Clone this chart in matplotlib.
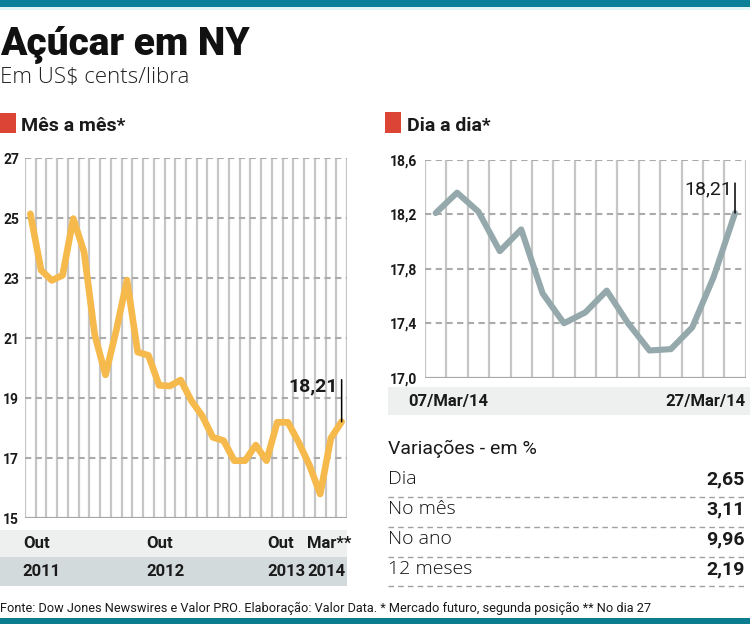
import matplotlib
matplotlib.use("Agg")
import matplotlib.pyplot as plt
from matplotlib.patches import Rectangle
from matplotlib.transforms import blended_transform_factory
import numpy as np

plt.rcParams['font.family'] = ['Roboto', 'DejaVu Sans']
plt.rcParams['lines.scale_dashes'] = False

# ---------------- data ----------------
monthly_values = [25.14, 23.26, 22.92, 23.09, 24.98, 23.87, 21.10, 19.77, 21.25, 22.93,
                  20.53, 20.42, 19.42, 19.40, 19.60, 18.91, 18.41, 17.69, 17.58, 16.91,
                  16.91, 17.43, 16.91, 18.19, 18.19, 17.52, 16.76, 15.80, 17.66, 18.21]
monthly_month_labels = ["Out", "Out", "Out", "Mar**"]
monthly_year_labels = ["2011", "2012", "2013", "2014"]
monthly_label_pos = [-0.7, 10.8, 22.1, 25.8]
monthly_yticks = [15, 17, 19, 21, 23, 25, 27]

daily_values = [18.21, 18.36, 18.22, 17.93, 18.09, 17.62, 17.40, 17.48, 17.64, 17.40,
                17.20, 17.21, 17.37, 17.74, 18.21]
daily_first_label = "07/Mar/14"
daily_last_label = "27/Mar/14"
daily_yticks = [17.0, 17.4, 17.8, 18.2, 18.6]

var_labels = ["Dia", "No mês", "No ano", "12 meses"]
var_values = ["2,65", "3,11", "9,96", "2,19"]

# ---------------- styling ----------------
W, H = 750, 624
TEAL = "#0c7f99"
RED = "#dc4536"
ORANGE = "#f6b94c"
SLATE = "#95a9ad"
VGRID = "#c6c6c6"
HGRID = "#ababab"
BAND_LIGHT = "#eef0f0"
BAND_DARK = "#d2dadc"
TXT = "#1a1a1a"
LIGHT_FAMILY = ["Open Sans", "DejaVu Sans"]

fig = plt.figure(figsize=(W / 100, H / 100), dpi=100)
fig.patch.set_facecolor("white")

def fx(px):
    return px / W

def fy(py):
    return 1 - py / H

def rect(x0, y0, x1, y1, color):
    fig.patches.append(Rectangle((fx(x0), fy(y1)), fx(x1) - fx(x0), fy(y0) - fy(y1),
                                 transform=fig.transFigure, color=color, zorder=0, lw=0))

# top / bottom bars
rect(0, 0, W, 7, TEAL)
rect(0, 7, W, 10, "#e2f5f7")
rect(0, 618, W, H, "#0b7d8e")

# titles
fig.text(fx(0), fy(55), "Açúcar em NY", fontsize=28, fontweight="black", color="#111111",
         ha="left", va="baseline")
fig.text(fx(0), fy(83), "Em US$ cents/libra", fontsize=16, fontweight="light", color="#222222",
         ha="left", va="baseline", family=LIGHT_FAMILY)

# section headers
rect(0, 113, 16, 133, RED)
fig.text(fx(21), fy(131), "Mês a mês*", fontsize=14, fontweight="bold", color=TXT,
         ha="left", va="baseline")
rect(385, 112, 401, 133, RED)
fig.text(fx(407), fy(131), "Dia a dia*", fontsize=14, fontweight="bold", color=TXT,
         ha="left", va="baseline")


def style_axes(ax, n, yticks, pad_px):
    ax.set_zorder(2)
    ax.set_xlim(-0.5, n - 0.5)
    ax.set_ylim(yticks[0], yticks[-1])
    ax.set_xticks([])
    ax.set_xticks(np.arange(-0.5, n, 1), minor=True)
    ax.tick_params(axis="x", which="both", length=0, labelbottom=False)
    ax.set_yticks(yticks)
    ax.tick_params(axis="y", length=0, pad=pad_px * 0.72, labelsize=10, labelcolor=TXT)
    for s in ax.spines.values():
        s.set_visible(False)
    ax.grid(True, which="minor", axis="x", color=VGRID, lw=1.6)
    ax.set_axisbelow(True)
    for v in yticks[1:]:
        ax.axhline(v, color=HGRID, lw=1.5, ls=(0, (4.5, 3.2)), zorder=1)
    ax.axhline(yticks[0], color="#a8a8a8", lw=1.6, zorder=1)
    ax.patch.set_alpha(0)


def bold_left_labels(ax):
    for lbl in ax.get_yticklabels():
        lbl.set_horizontalalignment("left")
        lbl.set_fontweight("bold")


# ---------------- left chart ----------------
axL = fig.add_axes([fx(25), fy(518), fx(347) - fx(25), fy(158) - fy(518)])
nL = len(monthly_values)
xL = np.arange(nL)
style_axes(axL, nL, monthly_yticks, 22)
axL.set_yticklabels([str(v) for v in monthly_yticks])
bold_left_labels(axL)
axL.plot(xL, monthly_values, color=ORANGE, lw=4.8, solid_joinstyle="round",
         solid_capstyle="round", zorder=3)
lastL = monthly_values[-1]
axL.annotate("", xy=(xL[-1], lastL), xycoords="data",
             xytext=(0, 42), textcoords="offset pixels",
             arrowprops=dict(arrowstyle="-", color="black", lw=1.1, shrinkA=0, shrinkB=0))
axL.annotate(f"{lastL:.2f}".replace(".", ","), xy=(xL[-1], lastL), xytext=(-4, 26),
             textcoords="offset pixels", ha="right", va="bottom", fontsize=14,
             fontweight="bold", color=TXT)

# bands under left chart
rect(0, 530, 347, 557, BAND_LIGHT)
rect(0, 557, 347, 586, BAND_DARK)
tL = blended_transform_factory(axL.transData, fig.transFigure)
for pos, m, yr in zip(monthly_label_pos, monthly_month_labels, monthly_year_labels):
    axL.text(pos, fy(543.5), m, transform=tL, ha="left", va="center", fontsize=12,
             fontweight="bold", color=TXT, clip_on=False)
    axL.text(pos, fy(572), yr, transform=tL, ha="left", va="center", fontsize=12,
             fontweight="bold", color=TXT, clip_on=False)

# ---------------- right chart ----------------
axR = fig.add_axes([fx(425), fy(377.7), fx(745.7) - fx(425), fy(160) - fy(377.7)])
nR = len(daily_values)
xR = np.arange(nR)
style_axes(axR, nR, daily_yticks, 35)
axR.set_yticklabels([f"{v:.1f}".replace(".", ",") for v in daily_yticks])
bold_left_labels(axR)
axR.plot(xR, daily_values, color=SLATE, lw=4.4, solid_joinstyle="round",
         solid_capstyle="round", zorder=3)
lastR = daily_values[-1]
axR.annotate("", xy=(xR[-1], lastR), xycoords="data",
             xytext=(0, 30), textcoords="offset pixels",
             arrowprops=dict(arrowstyle="-", color="black", lw=1.1, shrinkA=0, shrinkB=0))
axR.annotate(f"{lastR:.2f}".replace(".", ","), xy=(xR[-1], lastR), xytext=(-3, 15),
             textcoords="offset pixels", ha="right", va="bottom", fontsize=14,
             color=TXT)

rect(388, 387, W, 415, BAND_LIGHT)
fig.text(fx(408), fy(401.5), daily_first_label, ha="left", va="center", fontsize=12,
         fontweight="bold", color=TXT, zorder=3)
fig.text(fx(745), fy(401.5), daily_last_label, ha="right", va="center", fontsize=12,
         fontweight="bold", color=TXT, zorder=3)

# ---------------- variations table ----------------
fig.text(fx(388), fy(454), "Variações - em %", ha="left", va="baseline", fontsize=14,
         color=TXT)
row_base = [484, 514, 544, 574]
row_sep = [497, 527, 557, 586]
for lab, val, yb, ys in zip(var_labels, var_values, row_base, row_sep):
    fig.text(fx(388), fy(yb), lab, ha="left", va="baseline", fontsize=14,
             fontweight="light", color="#111111", family=LIGHT_FAMILY)
    fig.text(fx(745), fy(yb), val, ha="right", va="baseline", fontsize=14,
             fontweight="bold", color=TXT)
    fig.add_artist(plt.Line2D([fx(388), fx(745)], [fy(ys), fy(ys)], transform=fig.transFigure,
                              color="#a0a0a0", lw=1.0, ls=(0, (4, 3))))

# footer
fig.text(fx(0), fy(612),
         "Fonte: Dow Jones Newswires e Valor PRO. Elaboração: Valor Data. "
         "* Mercado futuro, segunda posição ** No dia 27",
         ha="left", va="baseline", fontsize=9.2, color=TXT)

fig.savefig("out.png", dpi=100, facecolor="white")
